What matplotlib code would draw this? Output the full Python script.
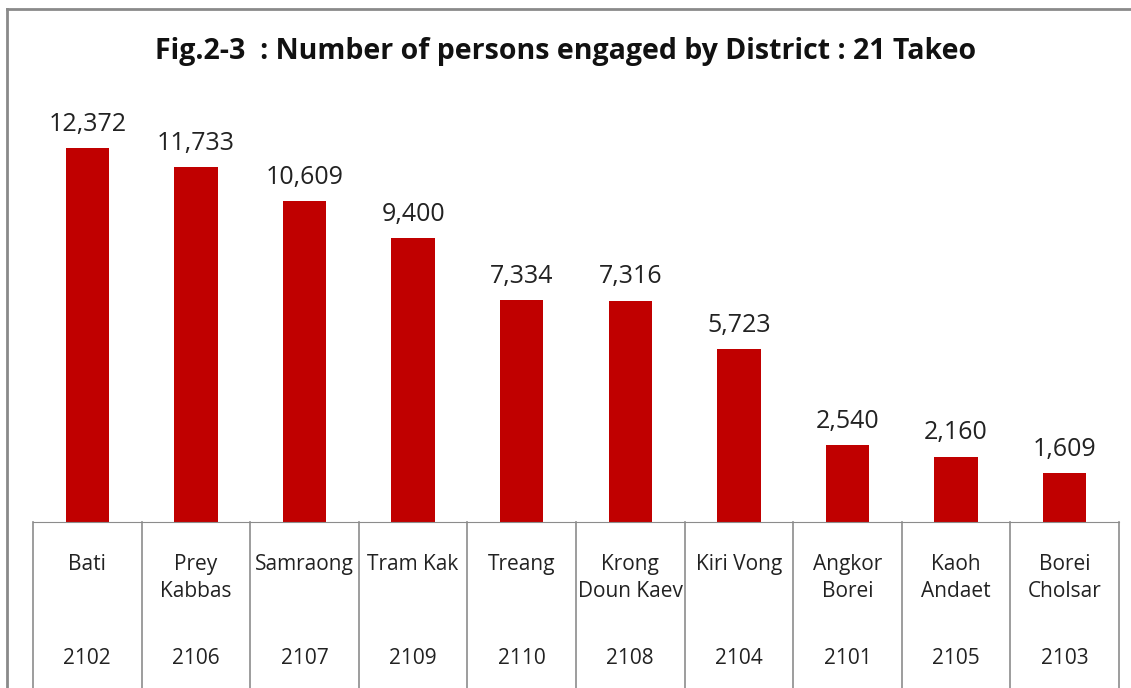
import matplotlib.pyplot as plt
from matplotlib.lines import Line2D

districts = ['Bati', 'Prey\nKabbas', 'Samraong', 'Tram Kak', 'Treang',
             'Krong\nDoun Kaev', 'Kiri Vong', 'Angkor\nBorei', 'Kaoh\nAndaet',
             'Borei\nCholsar']
codes = ['2102', '2106', '2107', '2109', '2110', '2108', '2104', '2101', '2105', '2103']
persons = [12372, 11733, 10609, 9400, 7334, 7316, 5723, 2540, 2160, 1609]

plt.rcParams['font.family'] = ['Open Sans', 'DejaVu Sans']

W, H = 1131, 688
fig = plt.figure(figsize=(W / 100, H / 100), dpi=100)
ax = fig.add_axes([33 / W, 1 - 522 / H, (1119 - 33) / W, (522 - 99) / H])

x = range(len(persons))
ax.bar(x, persons, width=0.4, color='#C00000')
for i, v in enumerate(persons):
    ax.text(i, v + 380, f'{v:,}', ha='center', va='bottom', fontsize=18, color='#222222')

ax.set_xlim(-0.5, len(persons) - 0.5)
ax.set_ylim(0, 14000)
for s in ['top', 'right', 'left']:
    ax.spines[s].set_visible(False)
ax.spines['bottom'].set_color('#8c8c8c')
ax.set_xticks([])
ax.set_yticks([])

# table-like category axis below the bars
trans = ax.get_xaxis_transform()
for b in range(len(persons) + 1):
    ax.add_line(Line2D([b - 0.5, b - 0.5], [0, -0.45], transform=trans,
                       color='#8c8c8c', lw=1.2, clip_on=False))
for i, (d, c) in enumerate(zip(districts, codes)):
    ax.text(i, -0.075, d, transform=trans, ha='center', va='top',
            fontsize=15, color='#222222', linespacing=1.4)
    ax.text(i, -0.322, c, transform=trans, ha='center', va='center',
            fontsize=15, color='#222222')

fig.text(0.5, 1 - 52 / H, 'Fig.2-3  : Number of persons engaged by District : 21 Takeo',
         ha='center', va='center', fontsize=20.5, fontweight='bold', color='#111111')

# outer chart border (left and top visible)
fig.add_artist(Line2D([7 / W, 7 / W], [0, 1 - 9 / H], color='#8a8a8a', lw=2))
fig.add_artist(Line2D([7 / W, 1], [1 - 9 / H, 1 - 9 / H], color='#8a8a8a', lw=2))

plt.savefig('out.png')
